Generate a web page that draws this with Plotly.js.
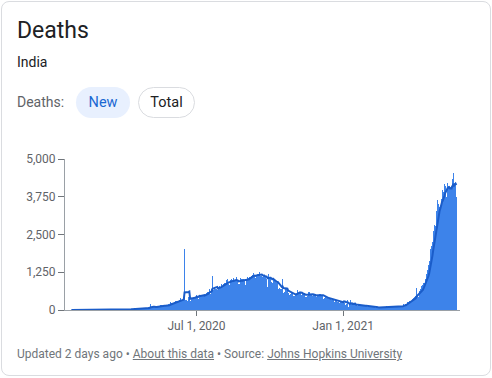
<!DOCTYPE html>
<html><head><meta charset="utf-8">
<script src="https://cdn.plot.ly/plotly-3.0.1.min.js"></script>
<style>
html,body{margin:0;padding:0;background:#fff;width:492px;height:378px;overflow:hidden;font-family:Roboto,Arial,sans-serif;}
#card{position:absolute;left:1px;top:1px;width:490px;height:375px;border:1px solid #dadce0;border-radius:8px;box-sizing:border-box;}
#chart{position:absolute;left:0;top:0;width:492px;height:378px;}
.t{position:absolute;white-space:nowrap;}
#title{left:17px;top:17px;height:28px;line-height:28px;font-size:23px;color:#202124;}
#sub{left:17px;top:52px;height:20px;line-height:20px;font-size:14px;color:#202124;}
#lbl{left:17px;top:87px;height:31px;line-height:31px;font-size:14px;color:#5f6368;}
.pill{position:absolute;top:87px;height:31px;line-height:31px;border-radius:16px;font-size:14.5px;font-weight:400;text-align:center;box-sizing:border-box;}
#pnew{left:76px;width:54px;background:#e8f0fe;color:#1967d2;}
#ptot{left:138px;width:57px;border:1px solid #dadce0;color:#202124;line-height:29px;}
#foot{left:17px;top:346px;height:16px;line-height:16px;font-size:12px;color:#70757a;}
#foot u{text-decoration:underline;}
</style></head>
<body>
<div id="card"></div>
<div id="chart"></div>
<div class="t" id="title">Deaths</div>
<div class="t" id="sub">India</div>
<div class="t" id="lbl">Deaths:</div>
<div class="pill" id="pnew">New</div>
<div class="pill" id="ptot">Total</div>
<div class="t" id="foot">Updated 2 days ago • <u>About this data</u> • Source: <u>Johns Hopkins University</u></div>
<script>
// Daily new deaths, India (first day: 2020-01-26)
const startDate = [2020, 0, 26];
const d2020_01 = [0,0,0,0,0,0];
const d2020_02 = [0,0,0,0,0,0,0,0,0,0,0,0,0,0,0,0,0,0,0,0,0,0,0,0,0,0,0,0,0];
const d2020_03 = [0,0,0,0,0,0,0,0,0,0,1,0,1,0,0,0,1,0,1,1,0,3,2,1,1,3,4,2,5,5,3];
const d2020_04 = [6,12,20,11,17,13,35,20,33,30,39,34,35,51,29,39,37,28,38,33,47,48,36,37,57,46,56,50,51,73];
const d2020_05 = [72,83,71,195,126,89,103,95,97,111,87,121,134,100,104,120,157,154,140,132,148,137,119,147,146,170,194,175,265,193,230];
const d2020_06 = [204,230,259,273,287,294,261,266,357,331,386,311,325,325,380,2006,341,336,375,306,445,465,312,418,410,384,418,380,506,417];
const d2020_07 = [507,434,379,613,425,467,482,465,475,487,519,500,551,553,582,606,687,671,543,681,1129,648,740,757,708,708,654,779,775,779,765];
const d2020_08 = [853,803,771,857,904,886,933,1007,1013,871,834,942,1007,1025,996,1057,876,944,977,1092,983,912,848,847,1059,1023,1065,1021,1014,971,819];
const d2020_09 = [1045,1026,1096,1065,1089,1133,1016,1115,1168,1209,1201,1114,1054,1132,1283,1132,1174,1247,1133,1130,1130,1085,1129,1141,1089,1124,1039,776,1179,1181];
const d2020_10 = [1095,1069,940,903,884,986,971,918,895,926,918,706,717,680,730,680,1033,579,587,717,706,680,650,578,480,488,517,587,563,543,470];
const d2020_11 = [470,496,490,704,670,577,559,577,449,512,547,547,554,517,435,447,449,584,584,585,511,537,391,480,518,501,524,496,443,482];
const d2020_12 = [482,540,511,524,482,512,354,402,411,442,391,416,340,354,387,355,338,341,347,336,279,333,251,325,251,278,216,252,299,286,252];
const d2021_01 = [217,460,224,165,201,340,164,90,228,340,202,185,201,175,191,180,145,162,137,151,162,152,131,163,127,131,123,127,163,132,128];
const d2021_02 = [94,106,108,107,101,95,84,86,84,101,80,87,97,81,78,88,99,101,112,96,101,110,77,137,104,108,115,113];
const d2021_03 = [106,108,98,116,113,103,97,112,86,133,126,140,124,103,102,117,176,187,155,195,215,230,250,275,290,310,290,300,350,400,420];
const d2021_04 = [459,469,714,513,478,446,630,684,780,794,839,904,879,1027,1038,1185,1341,1501,1619,1761,2023,2104,2263,2624,2767,2812,2771,3293,3645,3498];
const d2021_05 = [3523,3417,3449,3689,3780,3980,3915,4187,4092,4106,3754,4205,4120,4000,3890,4077,4106,4329,4529,3874,4209,4194,3741];

const yTicks = [0, 1250, 2500, 3750, 5000];
const xTickVals = ['2020-07-01', '2021-01-01'];
const xTickText = ['Jul 1, 2020', 'Jan 1, 2021'];

const deaths = [].concat(d2020_01,d2020_02,d2020_03,d2020_04,d2020_05,d2020_06,d2020_07,d2020_08,
  d2020_09,d2020_10,d2020_11,d2020_12,d2021_01,d2021_02,d2021_03,d2021_04,d2021_05);

const dates = deaths.map((_, i) => {
  const d = new Date(Date.UTC(startDate[0], startDate[1], startDate[2] + i));
  return d.toISOString().slice(0, 10);
});
// 7-day trailing average of the daily values
const avg7 = deaths.map((_, i) => {
  const s = deaths.slice(Math.max(0, i - 6), i + 1);
  return s.reduce((a, b) => a + b, 0) / s.length;
});

const tickFont = {family: 'Roboto, Arial, sans-serif', size: 12, color: '#5f6368'};
const data = [
  {type: 'bar', x: dates, y: deaths, marker: {color: '#3d83ea', line: {width: 0}}, hoverinfo: 'skip'},
  {type: 'scatter', mode: 'lines', x: dates, y: avg7, line: {color: '#1a5cc9', width: 2}, hoverinfo: 'skip'}
];
const layout = {
  width: 492, height: 378,
  margin: {l: 65, r: 32, t: 159, b: 68, pad: 0},
  paper_bgcolor: 'rgba(0,0,0,0)', plot_bgcolor: 'rgba(0,0,0,0)',
  showlegend: false, bargap: 0,
  xaxis: {type: 'date', range: ['2020-01-18', '2021-05-27 14:00'], tickvals: xTickVals, ticktext: xTickText,
    ticks: 'outside', ticklen: 5, tickcolor: '#70757a', showline: true, linecolor: '#9aa0a6', linewidth: 1,
    showgrid: false, zeroline: false, tickfont: tickFont, fixedrange: true},
  yaxis: {range: [0, 5000], tickvals: yTicks, tickformat: ',', ticks: 'outside', ticklen: 6, tickcolor: '#70757a',
    showline: true, linecolor: '#9aa0a6', linewidth: 1, showgrid: false, zeroline: false, tickfont: tickFont, fixedrange: true}
};
Plotly.newPlot('chart', data, layout, {displayModeBar: false, staticPlot: true});
</script>
</body></html>
